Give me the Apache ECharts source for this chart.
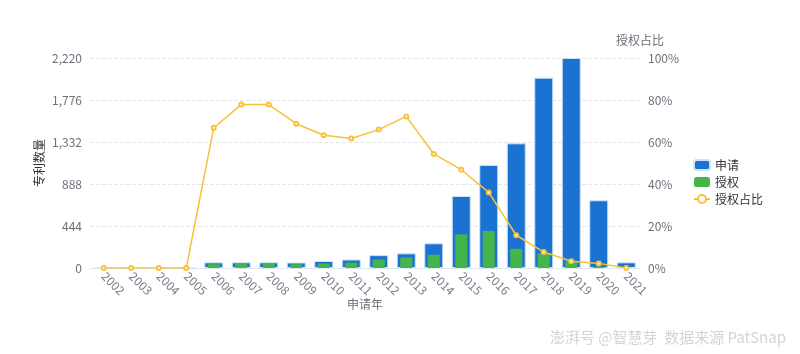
<!DOCTYPE html>
<html>
<head>
<meta charset="utf-8">
<script src="https://cdn.jsdelivr.net/npm/echarts@6/dist/echarts.min.js"></script>
<style>
  html, body { margin: 0; padding: 0; background: #fff; }
  #main { width: 800px; height: 354px; }
</style>
</head>
<body>
<div id="main"></div>
<script>
var years = ['2002','2003','2004','2005','2006','2007','2008','2009','2010','2011',
             '2012','2013','2014','2015','2016','2017','2018','2019','2020','2021'];
var applied = [0, 0, 0, 0, 60, 60, 60, 58, 74, 90, 136, 155, 261, 761, 1089, 1318, 2012, 2220, 716, 60];
var granted = [0, 0, 0, 0, 40, 47, 47, 40, 47, 56, 90, 112, 140, 355, 392, 203, 155, 72, 16, 0];
var ratio = [0, 0, 0, 0, 0.668, 0.778, 0.778, 0.687, 0.632, 0.617, 0.659, 0.722,
             0.543, 0.468, 0.36, 0.156, 0.076, 0.032, 0.022, 0];
var leftTicks = [0, 444, 888, 1332, 1776, 2220];

(function setChart(){
    var chart = echarts.init(document.getElementById('main'));
    var labelColor = '#6e7079';
    var option = {
        textStyle: { fontFamily: '"Noto Sans CJK SC", "Noto Sans", sans-serif' },
        grid: { left: 90, right: 160, top: 58, bottom: 86 },
        legend: {
            orient: 'vertical',
            left: 688,
            top: 154,
            itemWidth: 16,
            itemHeight: 10,
            itemGap: 5,
            textStyle: { fontSize: 12, color: '#333' },
            data: ['申请', '授权', '授权占比']
        },
        xAxis: [
            {
                type: 'category',
                data: years,
                name: '申请年',
                nameLocation: 'middle',
                nameGap: 30,
                nameMoveOverlap: false,
                nameTextStyle: { color: labelColor, fontSize: 12 },
                axisLine: { lineStyle: { color: '#e0e6f1' } },
                axisTick: { show: false },
                axisLabel: { rotate: -45, color: '#7a7f8c', fontSize: 12, interval: 0, margin: 6 }
            },
            {
                type: 'category',
                data: years,
                show: false
            }
        ],
        yAxis: [
            {
                type: 'value',
                name: '专利数量',
                nameLocation: 'middle',
                nameGap: 45,
                nameMoveOverlap: false,
                nameTextStyle: { color: '#333', fontSize: 12 },
                min: 0,
                max: leftTicks[leftTicks.length - 1],
                interval: leftTicks[1],
                axisLine: { show: false },
                axisTick: { show: false },
                axisLabel: { color: labelColor, fontSize: 12 },
                splitLine: { lineStyle: { color: '#e6e6e6', type: 'dashed' } }
            },
            {
                type: 'value',
                name: '授权占比',
                nameGap: 12,
                nameTextStyle: { color: labelColor, fontSize: 12 },
                min: 0,
                max: 1,
                interval: 0.2,
                axisLine: { show: false },
                axisTick: { show: false },
                axisLabel: {
                    color: labelColor, fontSize: 12,
                    formatter: function (v) { return Math.round(v * 100) + '%'; }
                },
                splitLine: { show: false }
            }
        ],
        series: [
            {
                name: '申请',
                type: 'bar',
                barWidth: 19,
                itemStyle: { color: '#1a73d3', borderColor: '#cfe2f7', borderWidth: 1 },
                data: applied
            },
            {
                name: '授权',
                type: 'bar',
                xAxisIndex: 1,
                barWidth: 12,
                itemStyle: { color: '#44b54b' },
                data: granted
            },
            {
                name: '授权占比',
                type: 'line',
                yAxisIndex: 1,
                symbol: 'emptyCircle',
                symbolSize: 4,
                lineStyle: { color: '#f8c13a', width: 1.5 },
                itemStyle: { color: '#f8c13a' },
                data: ratio
            }
        ],
        graphic: [
            {
                type: 'text',
                right: 14,
                bottom: 9,
                style: {
                    text: '澎湃号 @智慧芽  数据来源 PatSnap',
                    fill: 'rgba(170,170,170,0.5)',
                    font: '15px "Noto Sans CJK SC", sans-serif'
                }
            }
        ]
    };
    chart.setOption(option);
})();
</script>
</body>
</html>
